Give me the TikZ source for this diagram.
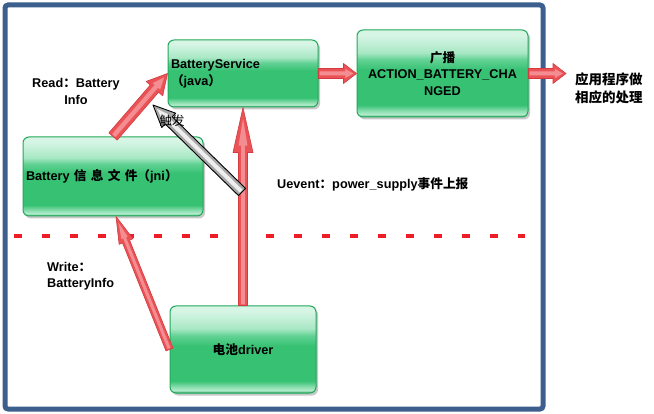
\documentclass[tikz,border=0pt]{standalone}
\usepackage{fontspec}
\setmainfont{Liberation Sans}
\newfontfamily\cjk{Noto Sans CJK SC}
\usetikzlibrary{calc,shadows}
\newcommand\zh[1]{{\cjk #1}}
\definecolor{framec}{HTML}{3D5F8E}
\definecolor{dashred}{HTML}{EE1C25}
\definecolor{gEdge}{HTML}{27A95E}
\definecolor{gBand}{HTML}{B4ECCD}
\definecolor{gBand2}{HTML}{7FDAA6}
\definecolor{gMid}{HTML}{36C173}
\definecolor{gHi1}{HTML}{62D294}
\definecolor{gHi2}{HTML}{A9E8C5}
\definecolor{gHi3}{HTML}{D6F5E5}
\definecolor{gBorder}{HTML}{22A85B}
\definecolor{arrOut}{HTML}{EB5256}
\definecolor{arrIn}{HTML}{F8A2A5}
\definecolor{arrLine}{HTML}{D23C40}
\definecolor{greyOut}{HTML}{A8A8A8}
\definecolor{greyIn}{HTML}{EEEEEE}
\pgfdeclareverticalshading{boxgloss}{100bp}{color(0bp)=(gEdge); color(25bp)=(gEdge); color(26.5bp)=(gBand); color(29bp)=(gBand2); color(32bp)=(gMid); color(52bp)=(gMid); color(58bp)=(gHi1); color(62bp)=(gHi2); color(72bp)=(gHi3); color(75bp)=(gHi3); color(100bp)=(gHi3)}
% fat block arrow: #1 outer style, #2 inner style, #3 from, #4 to, #5 shaft half, #6 head half, #7 head length
\newcommand\fatarrow[7]{%
  \path let \p1=($(#4)-(#3)$) in \pgfextra{%
    \pgfmathsetmacro\faangle{atan2(\y1,\x1)}%
    \pgfmathsetmacro\falength{veclen(\x1,\y1)}%
    \global\let\faang\faangle \global\let\falen\falength};
  \begin{scope}[shift={(#3)},rotate=\faang]
    \path[#1] (0pt,-#5pt) -- ({\falen pt-#7pt},-#5pt) -- ({\falen pt-#7pt},-#6pt)
      -- (\falen pt,0pt) -- ({\falen pt-#7pt},#6pt) -- ({\falen pt-#7pt},#5pt) -- (0pt,#5pt) -- cycle;
    \path[#2] (1.2pt,{-0.4*#5pt}) -- ({\falen pt-0.85*#7pt},{-0.4*#5pt}) -- ({\falen pt-0.85*#7pt},{-0.45*#6pt})
      -- ({\falen pt-0.25*#7pt},0pt) -- ({\falen pt-0.85*#7pt},{0.45*#6pt}) -- ({\falen pt-0.85*#7pt},{0.4*#5pt}) -- (1.2pt,{0.4*#5pt}) -- cycle;
  \end{scope}}
\begin{document}
\begin{tikzpicture}[x=1pt,y=-1pt,
  txt/.style={font=\bfseries\fontsize{12.7}{16.5}\selectfont, inner sep=1pt},
  gbox/.style={txt, rounded corners=6pt, draw=gBorder, line width=1pt, shading=boxgloss,
    drop shadow={shadow xshift=2pt,shadow yshift=-2.5pt,opacity=0.3,fill=black!70},
    inner xsep=3pt, inner ysep=2pt},
  redout/.style={fill=arrOut, draw=arrLine, line width=0.6pt, line join=round},
  redin/.style={fill=arrIn, opacity=0.75},
  greyout/.style={fill=greyOut, draw=black, line width=0.9pt, line join=round},
  greyin/.style={fill=greyIn}]
\useasboundingbox (0,0) rectangle (654,414);
\fill[white] (0,0) rectangle (654,414);
% frame
\draw[framec, line width=5pt, rounded corners=3pt] (5,5) rectangle (543,409);
% dashed separator
\draw[dashred, line width=4pt, dash pattern=on 8pt off 20pt] (14,236) -- (525,236);
% boxes
\node[gbox, minimum width=150pt, minimum height=67pt, text width=144pt, align=left] (bs) at (243,73.5)
  {BatteryService\\\zh{（}java\zh{）}};
\node[gbox, minimum width=171pt, minimum height=87pt, text width=165pt, align=center] (bc) at (442.5,73.5)
  {\zh{广播}\\ACTION\_BATTERY\_CHA\\NGED};
\node[gbox, minimum width=180pt, minimum height=79pt, text width=174pt, align=left] (jni) at (113,176.5)
  {Battery \zh{信 息 文 件（}jni\zh{）}};
\node[gbox, minimum width=146pt, minimum height=87pt, text width=140pt, align=center] (drv) at (243,349.5)
  {\zh{电池}driver};
% free ends
\coordinate (app) at (566,73.5);
\coordinate (trig) at (242,192);
\coordinate (trigtip) at (153,105);
% arrows
\fatarrow{redout}{redin}{jni.north}{bs.west}{5.5}{11}{20}
\fatarrow{redout}{redin}{drv.north}{bs.south}{4.5}{10}{45}
\fatarrow{redout}{redin}{bs.east}{bc.west}{5}{10}{13}
\fatarrow{redout}{redin}{bc.east}{app}{5}{10}{13}
\fatarrow{redout}{redin}{drv.west}{[xshift=3pt]jni.south}{3.8}{7.5}{27}
\fatarrow{greyout}{greyin}{trig}{trigtip}{5}{10}{22}
% labels
\node[txt, align=center] (lread) at (76,91.5) {Read\zh{：}Battery\\Info};
\node[font=\mdseries\fontsize{12.5}{14}\selectfont, inner sep=0pt] (ltrig) at (172,121) {\zh{触发}};
\node[txt, anchor=west] (luevent) at (276,184) {Uevent\zh{：}power\_supply\zh{事件上报}};
\node[txt, anchor=west, align=left] (lwrite) at (46,276) {Write\zh{：}\\BatteryInfo};
\node[txt, anchor=west, align=left, font=\bfseries\fontsize{13.5}{18}\selectfont] (lapp) at (574,88) {\zh{应用程序做}\\\zh{相应的处理}};
\end{tikzpicture}
\end{document}
